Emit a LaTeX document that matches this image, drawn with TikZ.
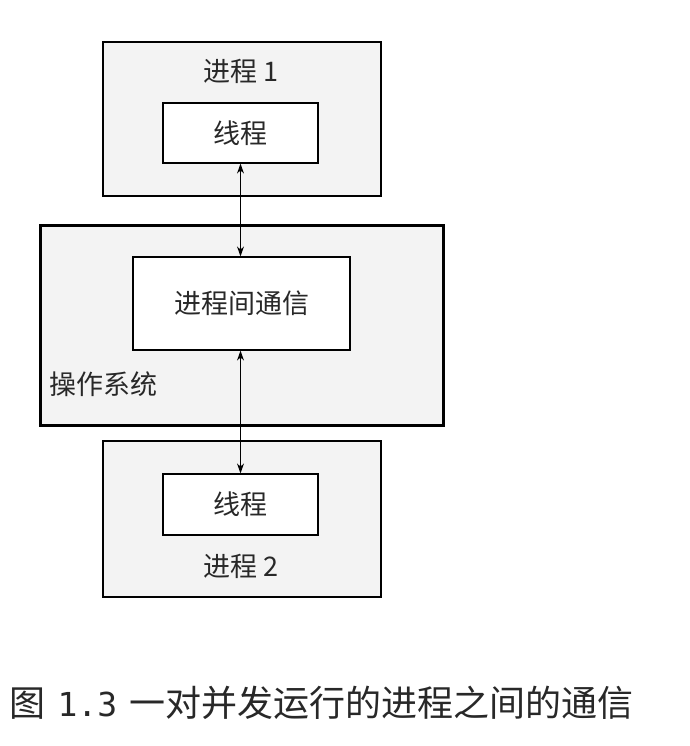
\documentclass[tikz,border=0pt]{standalone}
\usepackage{fontspec}
\setmainfont{Noto Sans CJK SC}
\setmonofont{DejaVu Sans Mono}
\usetikzlibrary{arrows.meta}
\definecolor{boxgray}{RGB}{243,243,243}
\definecolor{textgray}{RGB}{40,40,40}

\begin{document}
\begin{tikzpicture}[x=1pt, y=-1pt, line width=1.2pt, text=textgray,
    procbox/.style = {draw, rectangle, fill=boxgray, inner sep=0pt},
    innerbox/.style = {draw, rectangle, fill=white, inner sep=0pt},
    label/.style = {font=\fontsize{27}{32}\selectfont},
    link/.style = {{Stealth[length=10pt,width=7pt]}-{Stealth[length=10pt,width=7pt]}, line width=1.1pt}]
  \useasboundingbox (0, 0) rectangle (689, 746);

  \node[procbox, minimum width=278pt, minimum height=154pt] at (242, 119) (proc1) {};
  \node[innerbox, minimum width=155pt, minimum height=60pt] at (240.5, 133) (thread1) {};
  \node[label] at (241, 71) (proc1label) {进程 1};
  \node[label] at (thread1.center) (thread1label) {线程};

  \node[procbox, line width=3pt, minimum width=403pt, minimum height=200pt] at (241.5, 325) (os) {};
  \node[innerbox, minimum width=217pt, minimum height=93pt] at (241.5, 303.5) (ipc) {};
  \node[label] at (ipc.center) (ipclabel) {进程间通信};
  \node[label, anchor=west] at (46, 384) (oslabel) {操作系统};

  \node[procbox, minimum width=278pt, minimum height=156pt] at (242, 519) (proc2) {};
  \node[innerbox, minimum width=155pt, minimum height=61pt] at (240.5, 504.5) (thread2) {};
  \node[label] at (thread2.center) (thread2label) {线程};
  \node[label] at (241, 566) (proc2label) {进程 2};

  \draw[link] (thread1.south) -- (thread1.south |- ipc.north);
  \draw[link] (ipc.south -| thread2.north) -- (thread2.north);

  \node[anchor=west, inner sep=0pt, font=\fontsize{36}{42}\selectfont] at (9, 703) (caption)
    {图\hspace{12pt}{\ttfamily\fontsize{33}{38}\selectfont 1.3}\hspace{12pt}一对并发运行的进程之间的通信};
\end{tikzpicture}
\end{document}
